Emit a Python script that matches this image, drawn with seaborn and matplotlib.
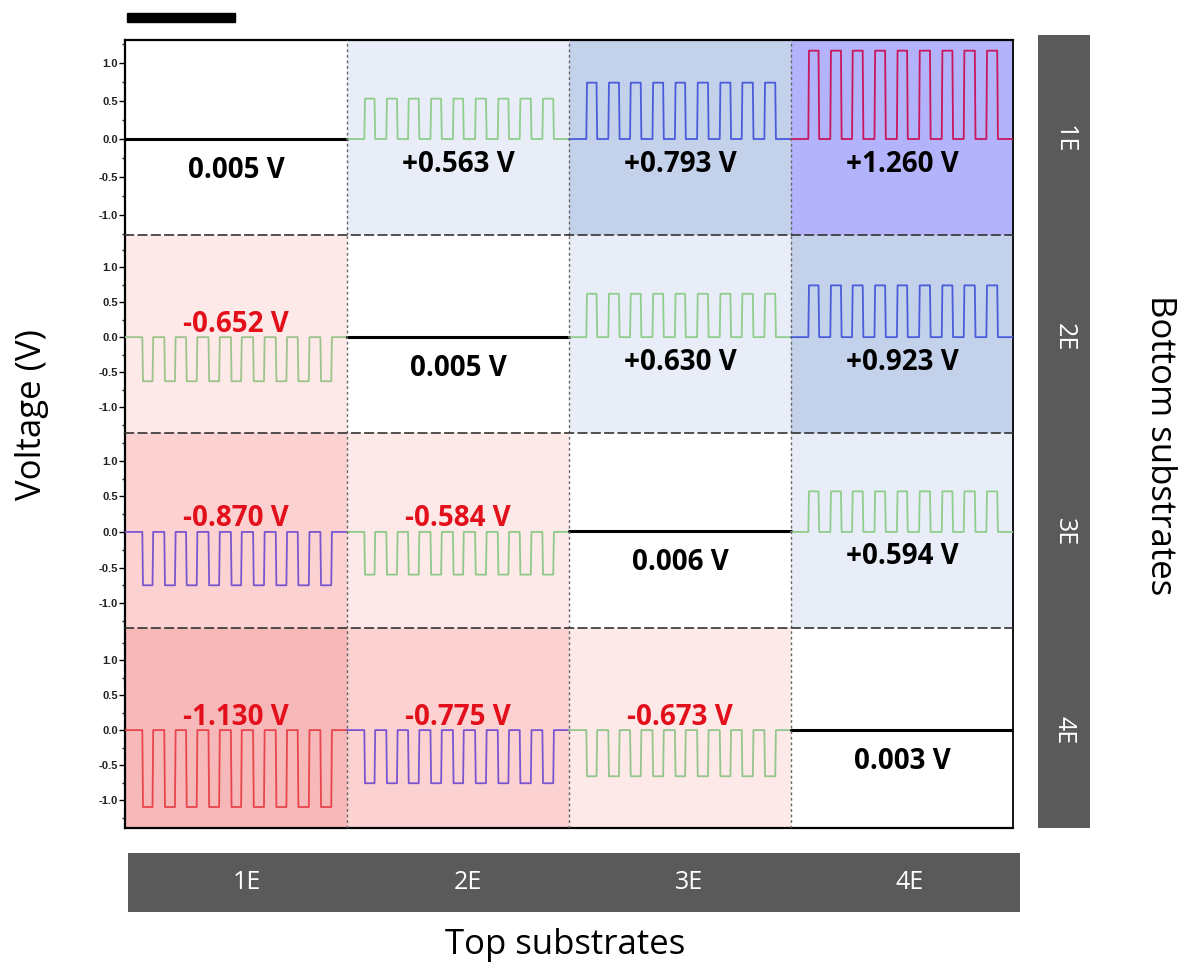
import numpy as np
import pandas as pd
import matplotlib
matplotlib.use('Agg')
import matplotlib.pyplot as plt
import seaborn as sns
from matplotlib.patches import Rectangle
from matplotlib.ticker import MultipleLocator, FixedLocator
from matplotlib.transforms import blended_transform_factory

# Row / column names (bottom and top substrates).
bottom_names = ['1E', '2E', '3E', '4E']
top_names = ['1E', '2E', '3E', '4E']

# Voltage written in each cell.
cell_values = [[0.005, 0.563, 0.793, 1.260],
               [-0.652, 0.005, 0.630, 0.923],
               [-0.870, -0.584, 0.006, 0.594],
               [-1.130, -0.775, -0.673, 0.003]]

# Plateau level of the square wave.
plateau = [[0.005, 0.53, 0.74, 1.16],
           [-0.63, 0.005, 0.62, 0.74],
           [-0.75, -0.60, 0.006, 0.57],
           [-1.10, -0.76, -0.66, 0.003]]

# Pulse on / off times, as fraction of a cell width.
pulse_on = [0.078, 0.177, 0.275, 0.376, 0.477, 0.577, 0.679, 0.778, 0.880]
pulse_off = [0.124, 0.225, 0.323, 0.424, 0.523, 0.626, 0.727, 0.828, 0.929]

# Trace and background colours.
line_colors = [['black', '#8fce8c', '#4a5cdc', '#c8175c'],
               ['#9cc48a', 'black', '#8fce8c', '#4a5cdc'],
               ['#7b55cf', '#8fc98a', 'black', '#8fce8c'],
               ['#e8454d', '#7b55cf', '#93c68a', 'black']]
bg_colors = [['white', '#e9edf7', '#c3d1ea', '#b2b3fa'],
             ['#fde9e7', 'white', '#e9edf7', '#c3d1ea'],
             ['#fbd2d1', '#fde9e7', 'white', '#e9edf7'],
             ['#f7b8b9', '#fbd2d1', '#fde9e7', 'white']]

sns.set_theme(style='white')
plt.rcParams['font.family'] = ['Open Sans', 'DejaVu Sans']

W, H = 1181, 967
fig = plt.figure(figsize=(W / 100, H / 100), dpi=100)

def fx(px):
    return px / W

def fy(py):
    return 1 - py / H

row_edges = [40, 235, 433, 628, 828]
row_ylims = [(-1.26, 1.30), (-1.37, 1.46), (-1.35, 1.39), (-1.40, 1.46)]
edge = 0.003

axes = []
for r in range(4):
    top, bot = row_edges[r], row_edges[r + 1]
    ax = fig.add_axes([fx(125), fy(bot), fx(1013) - fx(125), (bot - top) / H])
    axes.append(ax)
    for c in range(4):
        ax.axvspan(c, c + 1, color=bg_colors[r][c], lw=0, zorder=0)
        lvl = plateau[r][c]
        if line_colors[r][c] == 'black':
            t = [c, c + 1]
            v = [lvl, lvl]
            lw = 2.2
        else:
            t = [c]
            v = [0]
            for on, off in zip(pulse_on, pulse_off):
                t += [c + on, c + on + edge, c + off, c + off + edge]
                v += [0, lvl, lvl, 0]
            t.append(c + 1)
            v.append(0)
            lw = 1.3
        df = pd.DataFrame({'t': t, 'v': v})
        sns.lineplot(data=df, x='t', y='v', ax=ax, color=line_colors[r][c],
                     lw=lw, sort=False, estimator=None, zorder=3)

        val = cell_values[r][c]
        txt = f'{val:+.3f} V' if line_colors[r][c] != 'black' else f'{val:.3f} V'
        if val < 0:
            off_px, col = -13, '#e3101c'
        elif line_colors[r][c] == 'black':
            off_px, col = 31, 'black'
        else:
            off_px, col = 25, 'black'
        ax.annotate(txt, xy=(c + 0.5, 0), xytext=(0, -off_px * 0.72),
                    textcoords='offset points', ha='center', va='center',
                    fontsize=20, fontweight='bold', color=col, zorder=5,
                    family=['Open Sans', 'DejaVu Sans'])

    for x in [1, 2, 3]:
        ax.axvline(x, color='#666666', ls=(0, (2, 2)), lw=1, zorder=4)

    ax.set_xlim(0, 4)
    ax.set_ylim(*row_ylims[r])
    ax.set_xlabel('')
    ax.set_ylabel('')
    ax.set_xticks([])
    ax.yaxis.set_major_locator(FixedLocator([-1.0, -0.5, 0.0, 0.5, 1.0]))
    ax.yaxis.set_minor_locator(MultipleLocator(0.25))
    ax.set_yticklabels(['-1.0', '-0.5', '0.0', '0.5', '1.0'])
    ax.tick_params(axis='y', which='major', direction='out', length=4, width=1,
                   left=True, labelsize=8, pad=1, colors='black')
    ax.tick_params(axis='y', which='minor', direction='out', length=2, width=1, left=True)
    for lab in ax.get_yticklabels():
        lab.set_fontweight('bold')
        lab.set_family('Liberation Sans')
        lab.set_color('#222222')

    for s in ax.spines.values():
        s.set_color('black')
    ax.spines['left'].set_linewidth(1.6)
    ax.spines['right'].set_linewidth(1.3)
    if r == 0:
        ax.spines['top'].set_linewidth(1.6)
    else:
        ax.spines['top'].set_linestyle((0, (5, 3)))
        ax.spines['top'].set_linewidth(1.2)
        ax.spines['top'].set_color('#333333')
    if r == 3:
        ax.spines['bottom'].set_linewidth(1.6)
    else:
        ax.spines['bottom'].set_visible(False)

    # right-hand row label at the zero line of this row
    tr = blended_transform_factory(fig.transFigure, ax.transData)
    ax.text(fx(1064), 0, bottom_names[r], transform=tr, rotation=270,
            ha='center', va='center', fontsize=18, color='white', zorder=10)

# Gray bars for the substrate names.
bar_b = fig.add_axes([fx(128), fy(912), fx(1020) - fx(128), 59 / H], zorder=-1)
bar_b.set_facecolor('#5a5a5a')
bar_b.set_xlim(-0.04, 4.0)
bar_b.set_ylim(0, 1)
bar_b.set_xticks([])
bar_b.set_yticks([])
for s in bar_b.spines.values():
    s.set_visible(False)
for i, name in enumerate(top_names):
    bar_b.text(i + 0.5, 0.5, name, ha='center', va='center', fontsize=18, color='white')

bar_r = fig.add_axes([fx(1038), fy(828), fx(1090) - fx(1038), 793 / H], zorder=-1)
bar_r.set_facecolor('#5a5a5a')
bar_r.set_xticks([])
bar_r.set_yticks([])
for s in bar_r.spines.values():
    s.set_visible(False)

# Scale bar at the top left.
fig.add_artist(Rectangle((fx(127), fy(22)), (235 - 127) / W, 9 / H,
                         transform=fig.transFigure, color='black'))

fig.text(fx(32), fy(415), 'Voltage (V)', rotation=90, ha='center', va='center',
         fontsize=25, color='black')
fig.text(fx(565), fy(945), 'Top substrates', ha='center', va='center',
         fontsize=25, color='black')
fig.text(fx(1160), fy(445), 'Bottom substrates', rotation=270, ha='center', va='center',
         fontsize=25, color='black')

fig.savefig('out.png', dpi=100)
